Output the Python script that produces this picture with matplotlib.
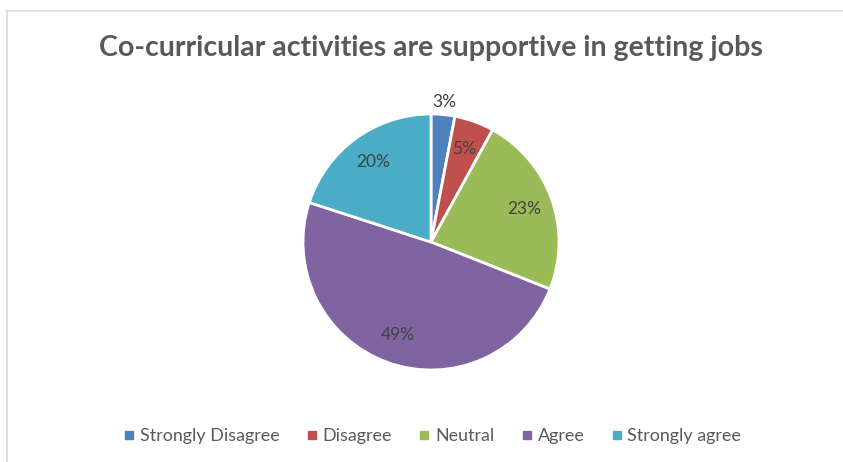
import matplotlib
matplotlib.use("Agg")
import matplotlib.pyplot as plt
from matplotlib.lines import Line2D

W, H = 843, 462
categories = ["Strongly Disagree", "Disagree", "Neutral", "Agree", "Strongly agree"]
values = [3, 5, 23, 49, 20]
colors = ["#4F81BD", "#C0504D", "#9BBB59", "#8064A2", "#4BACC6"]
title = "Co-curricular activities are supportive in getting jobs"

plt.rcParams["font.family"] = ["Lato", "DejaVu Sans"]

fig = plt.figure(figsize=(W / 100, H / 100), dpi=100)
fig.patch.set_facecolor("white")

# light chart-area border (top and left visible)
bc = "#D9D9D9"
fig.add_artist(Line2D([7 / W, 1], [1 - 11 / H, 1 - 11 / H], color=bc, lw=1.2))
fig.add_artist(Line2D([7 / W, 7 / W], [1 - 11 / H, 0], color=bc, lw=1.2))

# pie: center (431, 242) px, radius 128 px
cx, cy, r = 431, 242, 128
ax = fig.add_axes([(cx - r) / W, (H - cy - r) / H, 2 * r / W, 2 * r / H])
wedges, texts, autotexts = ax.pie(
    values, colors=colors, startangle=90, counterclock=False,
    autopct=lambda p: f"{p:.0f}%", pctdistance=0.77,
    wedgeprops=dict(edgecolor="white", linewidth=2),
    textprops=dict(color="#404040", fontsize=12.5),
)
ax.set_xlim(-1, 1)
ax.set_ylim(-1, 1)
# the tiny first slice gets its label outside
x, y = autotexts[0].get_position()
autotexts[0].set_position((x / 0.77 * 1.1, y / 0.77 * 1.1))

# title, fitted to the reference width
t = fig.text(cx / W, 1 - 48 / H, title, ha="center", va="center",
             fontsize=18, fontweight="bold", color="#595959")
fig.canvas.draw()
bb = t.get_window_extent()
t.set_fontsize(18 * 665 / bb.width)

handles = [Line2D([], [], marker="s", linestyle="none", markersize=5.5,
                  markerfacecolor=c, markeredgecolor=c) for c in colors]
fig.legend(handles, categories, loc="center", bbox_to_anchor=(433 / W, 1 - 436 / H),
           ncol=5, frameon=False, fontsize=12.9, labelcolor="#595959",
           handlelength=0.5, handletextpad=0.35, columnspacing=1.55)

fig.savefig("out.png", dpi=100)
